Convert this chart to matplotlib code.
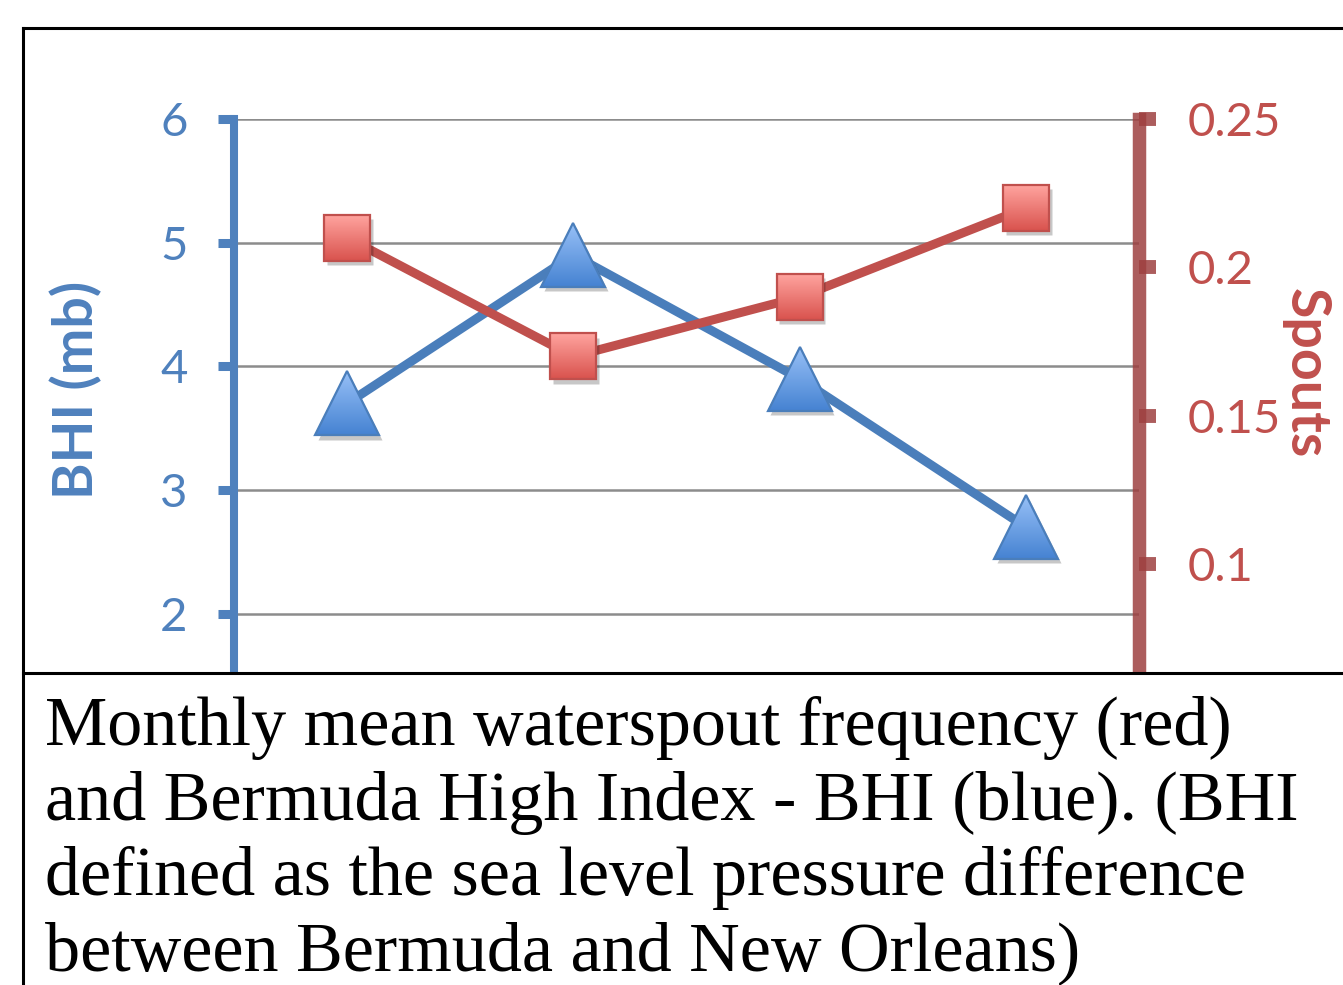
import matplotlib
matplotlib.use("Agg")
import numpy as np
import matplotlib.pyplot as plt
from matplotlib.patches import Rectangle
from matplotlib.lines import Line2D
from matplotlib.ticker import FixedLocator, FuncFormatter
from matplotlib.markers import MarkerStyle
from matplotlib.image import BboxImage
from matplotlib.transforms import Affine2D, ScaledTranslation, Bbox, TransformedBbox
from matplotlib.colors import LinearSegmentedColormap

# ---- data ----
categories = ["Jun", "Jul", "Aug", "Sep"]
bhi_values = [3.7, 4.9, 3.9, 2.7]          # BHI (mb), left axis
spout_values = [0.21, 0.17, 0.19, 0.22]    # Spouts, right axis
left_ticks = [2, 3, 4, 5, 6]
right_ticks = [0.1, 0.15, 0.2, 0.25]
caption_lines = [
    "Monthly mean waterspout frequency (red)",
    "and Bermuda High Index - BHI (blue). (BHI",
    "defined as the sea level pressure difference",
    "between Bermuda and New Orleans)",
]

W, H = 1343, 985
BLUE = "#4F81BD"
RED = "#C0504D"
SPINE_RED = (0.62, 0.25, 0.25, 0.85)


def fx(px):
    return px / W


def fy(py):
    return 1 - py / H


fig = plt.figure(figsize=(W / 100, H / 100), dpi=100)
fig.patch.set_facecolor("white")

# axes span the full (partly hidden) value range 0..6 / 0..0.25
ax = fig.add_axes([fx(234), fy(861), fx(1139) - fx(234), (861 - 119) / H])
x = list(range(len(categories)))
ax.set_xlim(-0.5, len(categories) - 0.5)
ax.set_ylim(0, 6)
ax.set_xticks(x)
ax.set_xticklabels(categories)
ax.tick_params(axis="x", length=0, labelbottom=False)
ax.yaxis.set_major_locator(FixedLocator(left_ticks))
ax.yaxis.set_major_formatter(FuncFormatter(lambda v, p: f"{v:g}"))
ax.grid(axis="y", color="#8C8C8C", linewidth=1.8, zorder=0)
ax.set_axisbelow(True)
for s in ["top", "right", "bottom"]:
    ax.spines[s].set_visible(False)
ax.spines["left"].set_color(BLUE)
ax.spines["left"].set_linewidth(5.8)
ax.tick_params(axis="y", direction="out", length=11.5, width=6.5, color=BLUE,
               labelsize=34, labelcolor=BLUE, pad=22)
for lab in ax.get_yticklabels():
    lab.set_fontfamily("Lato")

ax2 = ax.twinx()
ax2.set_ylim(0, 0.25)
ax2.yaxis.set_major_locator(FixedLocator(right_ticks))
ax2.yaxis.set_major_formatter(FuncFormatter(lambda v, p: f"{v:g}"))
for s in ["top", "left", "bottom"]:
    ax2.spines[s].set_visible(False)
ax2.spines["right"].set_color(SPINE_RED)
ax2.spines["right"].set_linewidth(9.7)
ax2.tick_params(axis="y", direction="out", length=12, width=10,
                color=SPINE_RED, labelsize=34, labelcolor=RED, pad=23)
for lab in ax2.get_yticklabels():
    lab.set_fontfamily("Lato")


def gradient_markers(axis, xs, ys, marker, ms, top, bottom, edge, z):
    """Draw markers with a vertical gradient fill and soft shadow."""
    ms_px = ms * fig.dpi / 72.0
    mstyle = MarkerStyle(marker)
    mpath = mstyle.get_path()
    mtrans_base = mstyle.get_transform() + Affine2D().scale(ms_px)
    cmap = LinearSegmentedColormap.from_list("g", [bottom, top])
    grad = np.linspace(0, 1, 64).reshape(-1, 1)
    # shadow
    axis.plot(xs, ys, linestyle="none", marker=marker, markersize=ms,
              markerfacecolor=(0, 0, 0, 0.22), markeredgecolor="none",
              transform=axis.transData + ScaledTranslation(2 / 72, -3 / 72, fig.dpi_scale_trans),
              zorder=z)
    for xi, yi in zip(xs, ys):
        t = mtrans_base + ScaledTranslation(xi, yi, axis.transData)
        bb = TransformedBbox(Bbox([[-0.5, -0.5], [0.5, 0.5]]),
                             Affine2D().scale(ms_px) + ScaledTranslation(xi, yi, axis.transData))
        img = BboxImage(bb, cmap=cmap, origin="lower", interpolation="bilinear")
        img.set_data(grad)
        img.set_clip_path(mpath, t)
        img.set_zorder(z + 0.1)
        axis.add_artist(img)
    axis.plot(xs, ys, linestyle="none", marker=marker, markersize=ms,
              markerfacecolor="none", markeredgecolor=edge, markeredgewidth=1.6,
              zorder=z + 0.2)


ax.plot(x, bhi_values, color="#4A7EBB", linewidth=6.5, zorder=3)
gradient_markers(ax, x, bhi_values, "^", 46, "#97C0F7", "#4683D2", "#4A7EBB", 3.3)

ax2.plot(x, spout_values, color=RED, linewidth=6.5, zorder=3)
gradient_markers(ax2, x, spout_values, "s", 33, "#FFA39E", "#D9534E", RED, 3.3)

# axis titles
fig.text(fx(76), fy(390), "BHI (mb)", rotation=90, ha="center", va="center",
         fontsize=40, fontweight="bold", color=BLUE, fontfamily="Lato")
fig.text(fx(1306), fy(373), "Spouts", rotation=-90, ha="center", va="center",
         fontsize=40, fontweight="bold", color=RED, fontfamily="Lato")

# caption box covering the lower part of the chart
fig.patches.append(Rectangle((0, 0), 1, fy(673), transform=fig.transFigure,
                             facecolor="white", edgecolor="none", zorder=5))
for (xa, ya, xb, yb) in [(23, 28, W, 28), (23, 28, 23, H), (23, 673, W, 673)]:
    fig.lines.append(Line2D([fx(xa), fx(xb)], [fy(ya), fy(yb)],
                            transform=fig.transFigure, color="black",
                            linewidth=2.2, zorder=6))

baselines = [745, 820, 895, 970]
for text, b in zip(caption_lines, baselines):
    fig.text(fx(45), fy(b), text, ha="left", va="baseline", fontsize=50.5,
             fontfamily="Liberation Serif", color="black", zorder=7)

fig.savefig("out.png", dpi=100, facecolor="white")
